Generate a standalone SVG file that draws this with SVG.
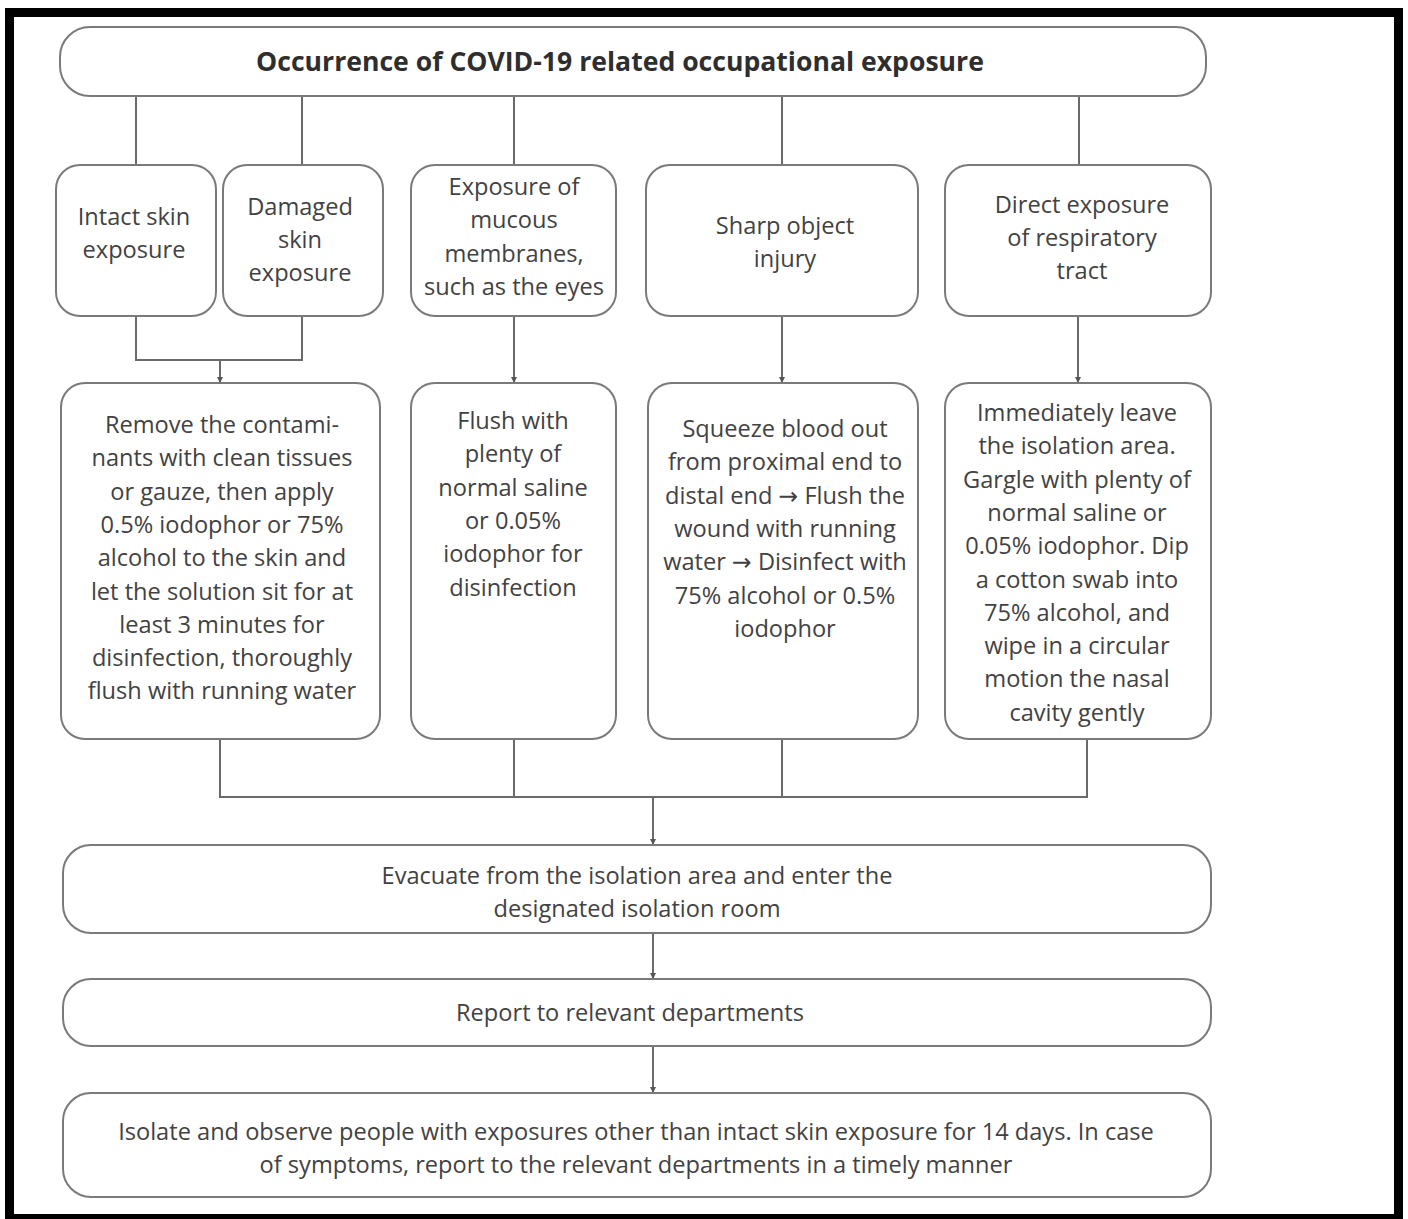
<svg xmlns="http://www.w3.org/2000/svg" width="1408" height="1219" viewBox="0 0 1408 1219">
<defs>
<marker id="ah" viewBox="0 0 6 6" refX="6" refY="3" markerWidth="6" markerHeight="6" markerUnits="userSpaceOnUse" orient="auto">
<path d="M0,0 L6,3 L0,6 Z" fill="#555"/>
</marker>
<style>
.box{fill:#fff;stroke:#7a7a7a;stroke-width:2}
.ln{fill:none;stroke:#6a6a6a;stroke-width:2}
.t{font-family:"Open Sans","Noto Sans","DejaVu Sans",sans-serif;font-size:23.6px;fill:#424242;text-anchor:middle}
.tb{font-family:"Open Sans","Noto Sans","DejaVu Sans",sans-serif;font-size:26.6px;font-weight:bold;fill:#2e2e2e;text-anchor:middle}
</style>
</defs>
<rect x="0" y="0" width="1408" height="1219" fill="#fff"/>
<rect x="9.5" y="12.5" width="1389" height="1206" fill="none" stroke="#000" stroke-width="9"/>

<g id="connectors">
<path class="ln" d="M136,96 V165 M302,96 V165 M514,96 V165 M782,96 V165 M1079,96 V165"/>
<path class="ln" d="M136,316 V360 H302 V316"/>
<path class="ln" d="M220,360 V383" marker-end="url(#ah)"/>
<path class="ln" d="M514,316 V383" marker-end="url(#ah)"/>
<path class="ln" d="M782,316 V383" marker-end="url(#ah)"/>
<path class="ln" d="M1078,316 V383" marker-end="url(#ah)"/>
<path class="ln" d="M220,739 V797 H1087 V739 M514,739 V797 M782,739 V797"/>
<path class="ln" d="M653,797 V845" marker-end="url(#ah)"/>
<path class="ln" d="M653,933 V979" marker-end="url(#ah)"/>
<path class="ln" d="M653,1046 V1093" marker-end="url(#ah)"/>
</g>

<g id="n-top">
<rect class="box" x="60" y="27" width="1146" height="69" rx="30"/>
<text class="tb" x="620" y="71">Occurrence of COVID-19 related occupational exposure</text>
</g>

<g id="n-intact">
<rect class="box" x="56" y="165" width="160" height="151" rx="24"/>
<text class="t" x="134" y="225">Intact skin</text>
<text class="t" x="134" y="258">exposure</text>
</g>
<g id="n-damaged">
<rect class="box" x="223" y="165" width="160" height="151" rx="24"/>
<text class="t" x="300" y="215">Damaged</text>
<text class="t" x="300" y="248">skin</text>
<text class="t" x="300" y="281">exposure</text>
</g>
<g id="n-mucous">
<rect class="box" x="411" y="165" width="205" height="151" rx="24"/>
<text class="t" x="514" y="195">Exposure of</text>
<text class="t" x="514" y="228">mucous</text>
<text class="t" x="514" y="261.5">membranes,</text>
<text class="t" x="514" y="295">such as the eyes</text>
</g>
<g id="n-sharp">
<rect class="box" x="646" y="165" width="272" height="151" rx="24"/>
<text class="t" x="785" y="234">Sharp object</text>
<text class="t" x="785" y="267">injury</text>
</g>
<g id="n-direct">
<rect class="box" x="945" y="165" width="266" height="151" rx="24"/>
<text class="t" x="1082" y="213">Direct exposure</text>
<text class="t" x="1082" y="246">of respiratory</text>
<text class="t" x="1082" y="279">tract</text>
</g>

<g id="n-remove">
<rect class="box" x="61" y="383" width="319" height="356" rx="24"/>
<text class="t" x="222" y="433">Remove the contami-</text>
<text class="t" x="222" y="466.3">nants with clean tissues</text>
<text class="t" x="222" y="499.6">or gauze, then apply</text>
<text class="t" x="222" y="532.9">0.5% iodophor or 75%</text>
<text class="t" x="222" y="566.2">alcohol to the skin and</text>
<text class="t" x="222" y="599.5">let the solution sit for at</text>
<text class="t" x="222" y="632.8">least 3 minutes for</text>
<text class="t" x="222" y="666.1">disinfection, thoroughly</text>
<text class="t" x="222" y="699.4">flush with running water</text>
</g>
<g id="n-flush">
<rect class="box" x="411" y="383" width="205" height="356" rx="24"/>
<text class="t" x="513" y="429">Flush with</text>
<text class="t" x="513" y="462.3">plenty of</text>
<text class="t" x="513" y="495.6">normal saline</text>
<text class="t" x="513" y="528.9">or 0.05%</text>
<text class="t" x="513" y="562.2">iodophor for</text>
<text class="t" x="513" y="595.5">disinfection</text>
</g>
<g id="n-squeeze">
<rect class="box" x="648" y="383" width="270" height="356" rx="24"/>
<text class="t" x="785" y="437">Squeeze blood out</text>
<text class="t" x="785" y="470.3">from proximal end to</text>
<text class="t" x="785" y="503.6">distal end → Flush the</text>
<text class="t" x="785" y="536.9">wound with running</text>
<text class="t" x="785" y="570.2">water → Disinfect with</text>
<text class="t" x="785" y="603.5">75% alcohol or 0.5%</text>
<text class="t" x="785" y="636.8">iodophor</text>
</g>
<g id="n-immediately">
<rect class="box" x="945" y="383" width="266" height="356" rx="24"/>
<text class="t" x="1077" y="421">Immediately leave</text>
<text class="t" x="1077" y="454.3">the isolation area.</text>
<text class="t" x="1077" y="487.6">Gargle with plenty of</text>
<text class="t" x="1077" y="520.9">normal saline or</text>
<text class="t" x="1077" y="554.2">0.05% iodophor. Dip</text>
<text class="t" x="1077" y="587.5">a cotton swab into</text>
<text class="t" x="1077" y="620.8">75% alcohol, and</text>
<text class="t" x="1077" y="654.1">wipe in a circular</text>
<text class="t" x="1077" y="687.4">motion the nasal</text>
<text class="t" x="1077" y="720.7">cavity gently</text>
</g>

<g id="n-evacuate">
<rect class="box" x="63" y="845" width="1148" height="88" rx="28"/>
<text class="t" x="637" y="884">Evacuate from the isolation area and enter the</text>
<text class="t" x="637" y="916.5">designated isolation room</text>
</g>
<g id="n-report">
<rect class="box" x="63" y="979" width="1148" height="67" rx="28"/>
<text class="t" x="630" y="1021">Report to relevant departments</text>
</g>
<g id="n-isolate">
<rect class="box" x="63" y="1093" width="1148" height="104" rx="28"/>
<text class="t" x="636" y="1140">Isolate and observe people with exposures other than intact skin exposure for 14 days. In case</text>
<text class="t" x="636" y="1173">of symptoms, report to the relevant departments in a timely manner</text>
</g>
</svg>
